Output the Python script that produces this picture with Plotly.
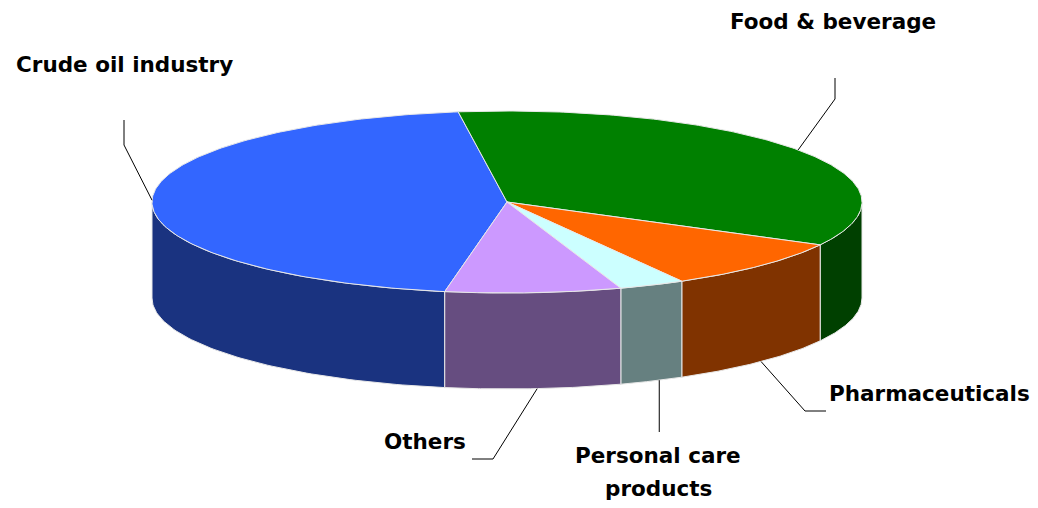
import numpy as np
import plotly.graph_objects as go

# ---- data ----
categories = ["Crude oil industry", "Food & beverage", "Pharmaceuticals",
              "Personal care products", "Others"]
values = [45, 35, 9, 3, 8]
label_text = ["Crude oil industry", "Food & beverage", "Pharmaceuticals",
              "Personal care<br>products", "Others"]

# ---- style ----
top_colors = ["#3366FF", "#008000", "#FF6600", "#CCFFFF", "#CC99FF"]
side_colors = ["#1A3380", "#004000", "#803300", "#668080", "#664D80"]
CX, CY, RX, RY, DEPTH = 507, 202, 355, 91, 96
START = 97.9 + 162.0  # start angle of first slice (degrees), slices go clockwise
W, H = 1038, 508
PAD = 8  # default page body margin

# label placement: text centre, elbow points, and where the leader leaves the slice
label_style = {
    "Crude oil industry": dict(tx=124, ty=64, frac=0.5, path=[(124, 145), (124, 120)]),
    "Food & beverage": dict(tx=833, ty=21, frac=0.5, path=[(835, 99), (835, 78)]),
    "Pharmaceuticals": dict(tx=929, ty=393, frac=0.5, path=[(805, 411), (826, 411)]),
    "Personal care products": dict(tx=658, ty=455, frac=0.62, path=[(None, 432)]),
    "Others": dict(tx=425, ty=441, frac=0.52, path=[(493, 459), (472, 459)]),
}


def ell(t_deg, dy=0.0):
    t = np.radians(t_deg)
    return CX + RX * np.cos(t), CY - RY * np.sin(t) + dy


total = float(sum(values))
fig = go.Figure()

angles = []
a = START
for v in values:
    a1 = a - 360.0 * v / total
    angles.append((a1, a))
    a = a1

# side faces (front half only)
for i, (lo, hi) in enumerate(angles):
    for k in range(-2, 3):
        vlo, vhi = -180 + 360 * k, 360 * k
        s, e = max(lo, vlo), min(hi, vhi)
        if e - s <= 0.01:
            continue
        ts = np.linspace(s, e, 80)
        xt, yt = ell(ts)
        xb, yb = ell(ts[::-1], DEPTH)
        xs = np.concatenate([xt, xb, xt[:1]])
        ys = np.concatenate([yt, yb, yt[:1]])
        fig.add_trace(go.Scatter(x=xs, y=ys, mode="lines", fill="toself",
                                 fillcolor=side_colors[i],
                                 line=dict(color="#E8E8E8", width=1),
                                 hoverinfo="skip", showlegend=False))

# top faces
for i, (lo, hi) in enumerate(angles):
    ts = np.linspace(hi, lo, 200)
    xt, yt = ell(ts)
    xs = np.concatenate([[CX], xt, [CX]])
    ys = np.concatenate([[CY], yt, [CY]])
    fig.add_trace(go.Scatter(x=xs, y=ys, mode="lines", fill="toself",
                             fillcolor=top_colors[i],
                             line=dict(color="#E8E8E8", width=1),
                             hoverinfo="skip", showlegend=False,
                             name=categories[i]))

# leader lines + labels
font = dict(family="DejaVu Sans", size=21.5, color="black")
for i, (lo, hi) in enumerate(angles):
    st = label_style[categories[i]]
    mid = lo + (hi - lo) * st["frac"]
    front = np.sin(np.radians(mid)) < -0.05
    ax, ay = ell(mid, DEPTH if front else 0.0)
    px = [ax] + [ax if p[0] is None else p[0] for p in st["path"]]
    py = [ay] + [p[1] for p in st["path"]]
    fig.add_trace(go.Scatter(x=px, y=py, mode="lines",
                             line=dict(color="black", width=1),
                             hoverinfo="skip", showlegend=False))
    for j, ln in enumerate(label_text[i].split("<br>")):
        fig.add_annotation(x=st["tx"], y=st["ty"] + 33 * j, text="<b>" + ln + "</b>",
                           showarrow=False, xanchor="center", yanchor="middle",
                           font=font)

fig.update_layout(
    width=W - PAD, height=H - PAD,
    margin=dict(l=0, r=0, t=0, b=0),
    paper_bgcolor="white", plot_bgcolor="white",
    xaxis=dict(range=[PAD, W], visible=False, fixedrange=True),
    yaxis=dict(range=[H, PAD], visible=False, fixedrange=True),
    showlegend=False,
)
fig.write_html("out.html")
